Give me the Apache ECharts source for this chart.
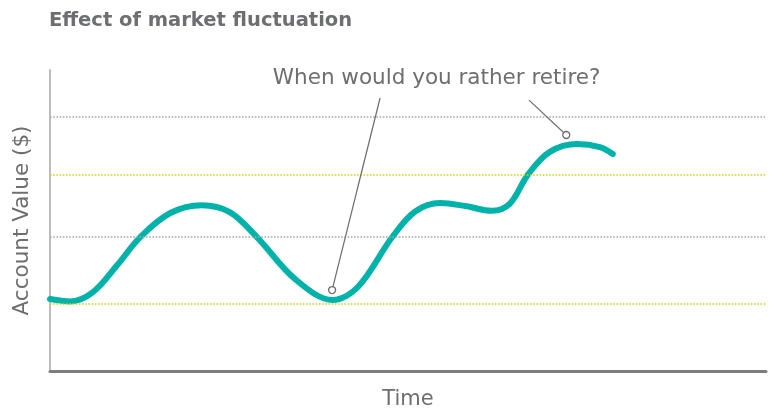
<!DOCTYPE html>
<html>
<head>
<meta charset="utf-8">
<script src="https://cdn.jsdelivr.net/npm/echarts@6/dist/echarts.min.js"></script>
<style>
  html, body { margin: 0; padding: 0; background: #fff; }
  #chart { width: 772px; height: 409px; }
</style>
</head>
<body>
<div id="chart"></div>
<script>
// Account value over time (time index 0–100, value index 0–100)
const timePoints = [0, 2.8, 6.0, 9.4, 12.6, 16.8, 21.2, 25.1, 28.9, 34.2, 39.5, 43.0, 47.8, 51.0, 54.5, 58.0, 61.7, 64.2, 66.8, 69.8, 73.6, 76.8, 78.6];
const accountValues = [23.9, 23.1, 26.2, 35.2, 44.5, 52.5, 55.1, 52.8, 44.5, 30.6, 23.6, 27.9, 44.5, 53.0, 55.8, 54.8, 53.2, 55.5, 65.4, 72.8, 75.4, 74.4, 72.1];

// Reference levels drawn as dotted guides
const grayLevels = [84.4, 44.5];
const greenLevels = [65.1, 22.3];

// Callout: moments compared, with where each leader line starts
const calloutText = 'When would you rather retire?';
const calloutPoints = [[39.4, 26.9], [72.1, 78.4]];
const calloutAnchors = [[46.1, 90.7], [66.9, 90.0]];

const TEAL = '#00b2a9';
const TEXT = '#6d6e71';
const FONT = 'DejaVu Sans';

const levelLines = [];
grayLevels.forEach(v => levelLines.push({ yAxis: v, lineStyle: { color: '#a7a7a7' } }));
greenLevels.forEach(v => levelLines.push({ yAxis: v, lineStyle: { color: '#c9d31c' } }));

const chart = echarts.init(document.getElementById('chart'), null, { renderer: 'canvas' });
chart.setOption({
  animation: false,
  title: {
    text: 'Effect of market fluctuation',
    left: 44, top: 6,
    textStyle: { fontFamily: FONT, fontWeight: 'bold', fontSize: 19.5, color: TEXT }
  },
  grid: { left: 50, right: 6, top: 70, bottom: 38, outerBoundsMode: 'none', containLabel: false },
  xAxis: {
    type: 'value', min: 0, max: 100,
    name: 'Time', nameLocation: 'middle', nameGap: 18,
    nameTextStyle: { fontFamily: FONT, fontSize: 21, color: TEXT },
    axisLine: { show: true, onZero: false, lineStyle: { color: '#7d7d7d', width: 3 } },
    axisTick: { show: false }, axisLabel: { show: false }, splitLine: { show: false }
  },
  yAxis: {
    type: 'value', min: 0, max: 100,
    name: 'Account Value ($)', nameLocation: 'middle', nameGap: 17,
    nameTextStyle: { fontFamily: FONT, fontSize: 21.5, color: TEXT },
    axisLine: { show: true, lineStyle: { color: '#bdbdbd', width: 2 } },
    axisTick: { show: false }, axisLabel: { show: false }, splitLine: { show: false }
  },
  series: [
    {
      type: 'line',
      data: [],
      silent: true,
      markLine: {
        silent: true, symbol: 'none', label: { show: false },
        lineStyle: { type: [1.6, 1.6], width: 1.6 },
        data: levelLines
      }
    },
    {
      type: 'line',
      data: timePoints.map((t, i) => [t, accountValues[i]]),
      smooth: 0.35,
      showSymbol: false,
      lineStyle: { color: TEAL, width: 6, cap: 'round' },
      z: 3
    },
    {
      type: 'line',
      data: [],
      markLine: {
        silent: true, symbol: 'none', label: { show: false },
        lineStyle: { type: 'solid', color: '#6d6d6d', width: 1.2 },
        data: calloutPoints.map((p, i) => [{ coord: calloutAnchors[i] }, { coord: p }])
      },
      z: 4
    },
    {
      type: 'scatter',
      data: calloutPoints,
      symbol: 'circle', symbolSize: 7,
      itemStyle: { color: '#fff', borderColor: '#6d6d6d', borderWidth: 1.3, opacity: 1 },
      z: 5
    },
    {
      type: 'scatter',
      data: [[54.0, 97.3]],
      symbolSize: 0,
      itemStyle: { opacity: 1 },
      label: {
        show: true, position: 'inside', formatter: calloutText,
        fontFamily: FONT, fontSize: 21.5, color: TEXT
      },
      z: 5
    }
  ]
});
</script>
</body>
</html>
